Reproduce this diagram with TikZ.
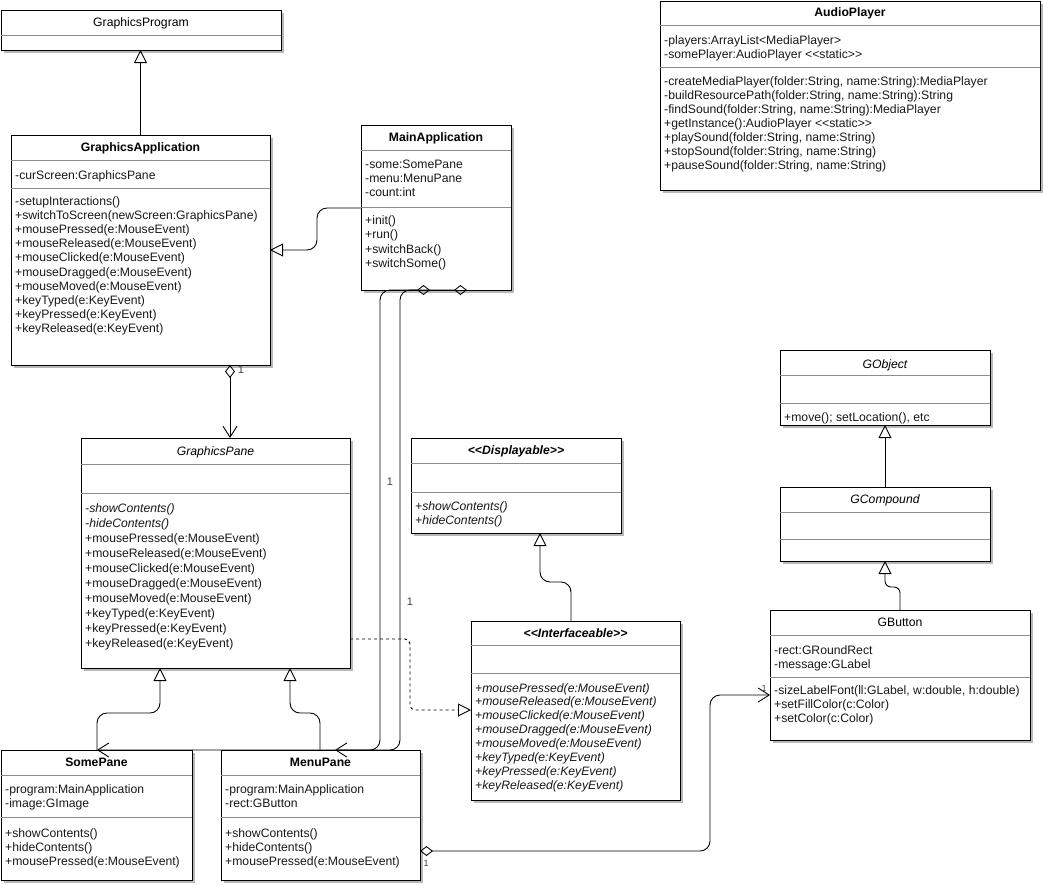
\documentclass[tikz,border=0pt]{standalone}
\usepackage{fontspec}
\setmainfont{Liberation Sans}
\usetikzlibrary{arrows.meta, shadows, calc}

\newcommand{\umlfont}{\fontsize{12.2}{14}\selectfont}
\newcommand{\ltlt}{<\kern0pt<}
\newcommand{\gtgt}{>\kern0pt>}
\newcommand{\umlsep}[2]{\draw[sep] ([yshift=-#2pt]#1.north west) -- ([yshift=-#2pt]#1.north east);}
\newcommand{\umlrows}[4]{%
  \foreach \row [count=\k from 0] in {#4}{%
    \pgfmathsetmacro{\dy}{#2+\k*#3}%
    \node[member] at ([xshift=4pt, yshift=-\dy pt]#1.north west) {\row};
  }%
}

\begin{document}
\begin{tikzpicture}[x=1pt, y=-1pt,
  cls/.style={draw, line width=1pt, fill=white, inner sep=0pt, outer sep=0pt, anchor=north west,
    drop shadow={shadow xshift=3pt, shadow yshift=-3pt, fill=black!28, opacity=1}},
  sep/.style={draw=black!45, line width=0.8pt},
  ttl/.style={anchor=base, inner sep=0pt, font=\umlfont\bfseries},
  plainttl/.style={ttl, font=\umlfont},
  absttl/.style={ttl, font=\umlfont\itshape},
  ifttl/.style={ttl, font=\umlfont\bfseries\itshape},
  member/.style={anchor=base west, inner sep=0pt, font=\umlfont, text=black!90},
  mult/.style={inner sep=0pt, font=\fontsize{11}{13}\selectfont, text=black!75},
  gen/.style={-{Triangle[open, length=13pt, width=13pt]}, line width=0.9pt},
  real/.style={gen, dashed},
  aggr/.style={{Diamond[open, length=13pt, width=10pt]}-{Straight Barb[length=11pt, width=14pt]}, line width=0.9pt}]
\useasboundingbox (0,0) rectangle (1043,884);

% classes
\node[cls, minimum width=280pt, minimum height=40pt] (gprog) at (1,10) {};
\umlsep{gprog}{25}
\node[plainttl] at ([yshift=-16pt]gprog.north) {GraphicsProgram};

\node[cls, minimum width=259pt, minimum height=230pt] (gapp) at (11,135) {};
\umlsep{gapp}{25}
\umlsep{gapp}{53}
\node[ttl] at ([yshift=-16pt]gapp.north) {GraphicsApplication};
\umlrows{gapp}{44}{14}{-curScreen:GraphicsPane}
\umlrows{gapp}{70}{14.2}{-setupInteractions(), +switchToScreen(newScreen:GraphicsPane), +mousePressed(e:MouseEvent),
  +mouseReleased(e:MouseEvent), +mouseClicked(e:MouseEvent), +mouseDragged(e:MouseEvent), +mouseMoved(e:MouseEvent),
  +keyTyped(e:KeyEvent), +keyPressed(e:KeyEvent), +keyReleased(e:KeyEvent)}

\node[cls, minimum width=150pt, minimum height=165pt] (mainapp) at (361,125) {};
\umlsep{mainapp}{25}
\umlsep{mainapp}{82}
\node[ttl] at ([yshift=-16pt]mainapp.north) {MainApplication};
\umlrows{mainapp}{43}{14}{-some:SomePane, -menu:MenuPane, -count:int}
\umlrows{mainapp}{99}{14.5}{+init(), +run(), +switchBack(), +switchSome()}

\node[cls, minimum width=380pt, minimum height=189pt] (audio) at (660,1) {};
\umlsep{audio}{24}
\umlsep{audio}{66}
\node[ttl] at ([yshift=-15pt]audio.north) {AudioPlayer};
\umlrows{audio}{43}{14}{-players:ArrayList<MediaPlayer>, -somePlayer:AudioPlayer \ltlt static\gtgt}
\umlrows{audio}{84}{14}{{-createMediaPlayer(folder:String, name:String):MediaPlayer},
  {-buildResourcePath(folder:String, name:String):String}, {-findSound(folder:String, name:String):MediaPlayer},
  {+getInstance():AudioPlayer \ltlt static\gtgt}, {+playSound(folder:String, name:String)},
  {+stopSound(folder:String, name:String)}, {+pauseSound(folder:String, name:String)}}

\node[cls, minimum width=210pt, minimum height=75pt] (gobj) at (780,350) {};
\umlsep{gobj}{25}
\umlsep{gobj}{53}
\node[absttl] at ([yshift=-18pt]gobj.north) {GObject};
\umlrows{gobj}{71}{14}{{+move(); setLocation(), etc}}

\node[cls, minimum width=210pt, minimum height=74pt] (gcomp) at (780,487) {};
\umlsep{gcomp}{25}
\umlsep{gcomp}{52}
\node[absttl] at ([yshift=-16pt]gcomp.north) {GCompound};

\node[cls, minimum width=260pt, minimum height=130pt] (gbtn) at (770,610) {};
\umlsep{gbtn}{25}
\umlsep{gbtn}{67}
\node[plainttl] at ([yshift=-16pt]gbtn.north) {GButton};
\umlrows{gbtn}{44}{14}{-rect:GRoundRect, -message:GLabel}
\umlrows{gbtn}{84}{14}{{-sizeLabelFont(ll:GLabel, w:double, h:double)}, +setFillColor(c:Color), +setColor(c:Color)}

\node[cls, minimum width=269pt, minimum height=230pt] (gpane) at (81,438) {};
\umlsep{gpane}{26}
\umlsep{gpane}{55}
\node[absttl] at ([yshift=-17pt]gpane.north) {GraphicsPane};
\umlrows{gpane}{74}{15}{{\itshape -showContents()}, {\itshape -hideContents()}, +mousePressed(e:MouseEvent),
  +mouseReleased(e:MouseEvent), +mouseClicked(e:MouseEvent), +mouseDragged(e:MouseEvent), +mouseMoved(e:MouseEvent),
  +keyTyped(e:KeyEvent), +keyPressed(e:KeyEvent), +keyReleased(e:KeyEvent)}

\node[cls, minimum width=210pt, minimum height=95pt] (disp) at (411,438) {};
\umlsep{disp}{25}
\umlsep{disp}{54}
\node[ifttl] at ([yshift=-16pt]disp.north) {\ltlt Displayable\gtgt};
\umlrows{disp}{72}{14}{{\itshape +showContents()}, {\itshape +hideContents()}}

\node[cls, minimum width=209pt, minimum height=179pt] (iface) at (471,621) {};
\umlsep{iface}{24}
\umlsep{iface}{52}
\node[ifttl] at ([yshift=-16pt]iface.north) {\ltlt Interfaceable\gtgt};
\umlrows{iface}{71}{13.9}{{\itshape +mousePressed(e:MouseEvent)}, {\itshape +mouseReleased(e:MouseEvent)},
  {\itshape +mouseClicked(e:MouseEvent)}, {\itshape +mouseDragged(e:MouseEvent)}, {\itshape +mouseMoved(e:MouseEvent)},
  {\itshape +keyTyped(e:KeyEvent)}, {\itshape +keyPressed(e:KeyEvent)}, {\itshape +keyReleased(e:KeyEvent)}}

\node[cls, minimum width=191pt, minimum height=130pt] (some) at (1,750) {};
\umlsep{some}{25}
\umlsep{some}{67}
\node[ttl] at ([yshift=-16pt]some.north) {SomePane};
\umlrows{some}{43}{14.5}{-program:MainApplication, -image:GImage}
\umlrows{some}{87}{14}{+showContents(), +hideContents(), +mousePressed(e:MouseEvent)}

\node[cls, minimum width=199pt, minimum height=130pt] (menu) at (221,750) {};
\umlsep{menu}{25}
\umlsep{menu}{67}
\node[ttl] at ([yshift=-16pt]menu.north) {MenuPane};
\umlrows{menu}{43}{14.5}{-program:MainApplication, -rect:GButton}
\umlrows{menu}{87}{14}{+showContents(), +hideContents(), +mousePressed(e:MouseEvent)}

% inheritance
\draw[gen] (gapp.north) -- (gapp.north |- gprog.south);
\draw[gen, rounded corners=10pt] ([yshift=-83pt]mainapp.north west) -- ++(-44,0) |- ([yshift=-115pt]gapp.north east);
\draw[gen, rounded corners=10pt] ([xshift=96pt]some.north west) -- ++(0,-37) -| ([xshift=79pt]gpane.south west);
\draw[gen, rounded corners=10pt] ([xshift=99pt]menu.north west) -- ++(0,-37) -| ([xshift=209pt]gpane.south west);
\draw[gen, rounded corners=10pt] ([xshift=100pt]iface.north west) -- ++(0,-39) -| ([xshift=129pt]disp.south west);
\draw[gen] (gcomp.north) -- (gobj.south);
\draw[gen, rounded corners=6pt] (gbtn.north) -- ++(0,-23) -| (gcomp.south);
\draw[real, rounded corners=5pt] ([yshift=-201pt]gpane.north east) -- ++(60,0) |- ([yshift=-89pt]iface.north west);

% aggregation
\draw[aggr] ([xshift=219pt]gapp.south west) -- ([xshift=149pt]gpane.north west);
\node[mult] at (241,370) {1};

\coordinate (laneA) at (380,0);
\coordinate (laneB) at (400,0);
\draw[aggr, rounded corners=10pt] ([xshift=69pt]mainapp.south west) -| (laneA |- menu.north) -- ([xshift=114pt]menu.north west);
\draw[aggr, rounded corners=10pt] ([xshift=106pt]mainapp.south west) -| (laneB |- some.north) -- ([xshift=96pt]some.north west);
\node[mult] at (390,482) {1};
\node[mult] at (410,602) {1};

\draw[aggr, rounded corners=10pt] ([yshift=-101pt]menu.north east) -- ++(290,0) |- ([yshift=-85pt]gbtn.north west);
\node[mult, font=\fontsize{9}{10}\selectfont] at (426,863) {1};
\node[mult, font=\fontsize{9}{10}\selectfont] at (764,688) {1};
\end{tikzpicture}
\end{document}
